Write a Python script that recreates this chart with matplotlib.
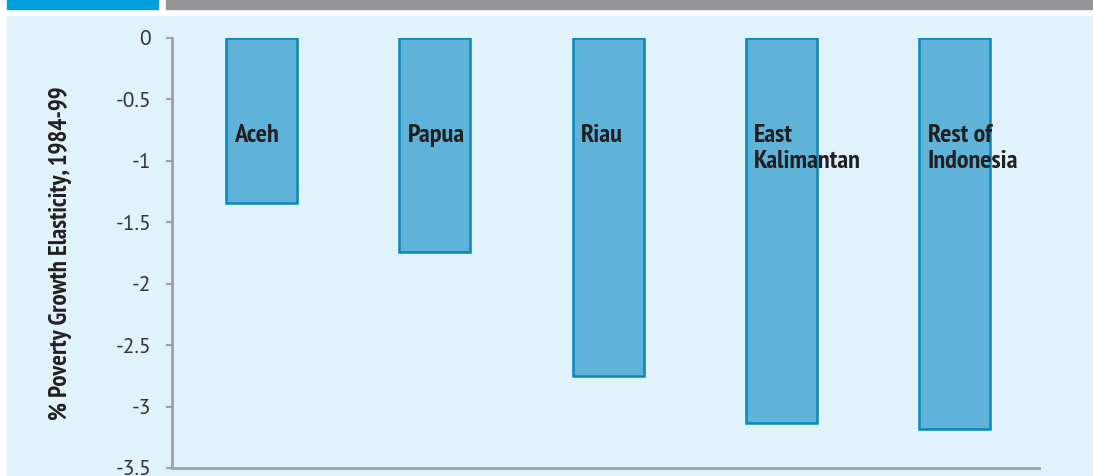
import matplotlib
matplotlib.use("Agg")
import matplotlib.pyplot as plt
from matplotlib.patches import Rectangle

regions = ["Aceh", "Papua", "Riau", "East\nKalimantan", "Rest of\nIndonesia"]
elasticity = [-1.34, -1.74, -2.75, -3.13, -3.18]
yticks = [0, -0.5, -1, -1.5, -2, -2.5, -3, -3.5]
ylabel = "% Poverty Growth Elasticity, 1984-99"

narrow_bold = ["PT Sans Narrow", "Open Sans Condensed", "DejaVu Sans"]
plt.rcParams["font.family"] = ["PT Sans", "Fira Sans", "Open Sans", "DejaVu Sans"]

panel_bg = "#e0f2fa"
bar_fill = "#5fb3d9"
bar_edge = "#0a86bd"
axis_grey = "#a0a0a4"
text_dark = "#231f20"

fig = plt.figure(figsize=(10.93, 4.76), dpi=100)
fig.patch.set_facecolor("white")

# header strips and the tinted panel behind the chart
fig.add_artist(Rectangle((7 / 1093, 1 - 9 / 476), 151 / 1093, 9 / 476,
                         transform=fig.transFigure, color="#00a0dc", zorder=0))
fig.add_artist(Rectangle((166 / 1093, 1 - 9 / 476), 927 / 1093, 9 / 476,
                         transform=fig.transFigure, color="#939598", zorder=0))
fig.add_artist(Rectangle((7 / 1093, 0), 1, 1 - 16 / 476,
                         transform=fig.transFigure, color=panel_bg, zorder=0))

ax = fig.add_axes([172 / 1093, 1 - 468 / 476, 867 / 1093, 430 / 476])
ax.set_facecolor("none")

x = [i + 0.015 for i in range(len(regions))]
width = 0.41
ax.bar(x, elasticity, width=width, color=bar_fill, edgecolor=bar_edge,
       linewidth=1.8, zorder=2)

for xi, name in zip(x, regions):
    ax.annotate(name, (xi - width / 2, -0.70), xytext=(6, 0),
                textcoords="offset points", ha="left", va="top",
                fontsize=19, fontweight="bold", family=narrow_bold,
                color=text_dark, linespacing=1.17, zorder=3)

ax.set_xlim(-0.5, len(regions) - 0.5)
ax.set_ylim(-3.5, 0)
ax.set_yticks(yticks)
ax.set_yticklabels([f"{v:g}" for v in yticks])
ax.set_xticks([])

for side in ["top", "right"]:
    ax.spines[side].set_visible(False)
for side in ["left", "bottom"]:
    ax.spines[side].set_color(axis_grey)
    ax.spines[side].set_linewidth(2)

ax.tick_params(axis="y", direction="out", length=4, width=1.5,
               color=axis_grey, labelsize=15.5, labelcolor="#333333", pad=11)

ax.set_ylabel(ylabel, fontsize=18, fontweight="bold", family=narrow_bold,
              color=text_dark)
ax.yaxis.set_label_coords(-0.1154, 0.5)

fig.savefig("out.png", dpi=100, facecolor=fig.get_facecolor())
